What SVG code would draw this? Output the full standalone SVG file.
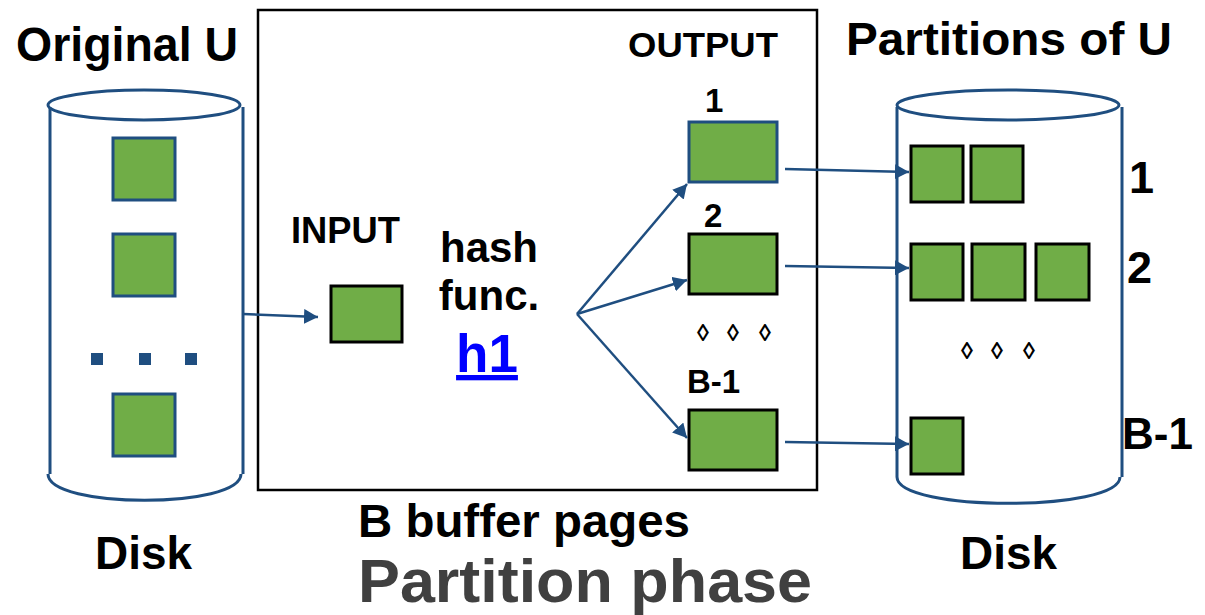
<svg xmlns="http://www.w3.org/2000/svg" width="1205" height="615" viewBox="0 0 1205 615">
<defs>
<style>
.t{font-family:"Liberation Sans",Arial,sans-serif;font-weight:bold;fill:#000}
.cyl{fill:none;stroke:#1F4E80;stroke-width:3}
.pg{fill:#70AD47;stroke:#000;stroke-width:3}
.pgb{fill:#70AD47;stroke:#1F4E80;stroke-width:3}
.dot{fill:#1F4E80}
.con{fill:none;stroke:#1F4E80;stroke-width:2.5;marker-end:url(#ah)}
.dia{font-family:"Liberation Sans",Arial,sans-serif;font-weight:bold;font-size:24px;fill:#000}
</style>
<marker id="ah" markerUnits="userSpaceOnUse" markerWidth="15" markerHeight="15" refX="14" refY="7.5" orient="auto">
<path d="M0,0 L14,7.5 L0,15 z" fill="#1F4E80"/>
</marker>
</defs>
<rect width="1205" height="615" fill="#fff"/>

<g id="original-disk">
<ellipse class="cyl" cx="144" cy="105" rx="96" ry="15"/>
<line class="cyl" x1="50" y1="107" x2="50" y2="474"/>
<line class="cyl" x1="243" y1="107" x2="243" y2="474"/>
<path class="cyl" d="M48,474 C48,509 241,509 241,474"/>
<rect class="pgb" x="113" y="138" width="62" height="62"/>
<rect class="pgb" x="113" y="234" width="62" height="62"/>
<rect class="pgb" x="113" y="394" width="62" height="62"/>
<rect class="dot" x="91" y="353" width="12" height="12"/>
<rect class="dot" x="139" y="353" width="12" height="12"/>
<rect class="dot" x="185" y="353" width="12" height="12"/>
<text class="t" x="16" y="61" font-size="48" textLength="222" lengthAdjust="spacingAndGlyphs">Original U</text>
<text class="t" x="95" y="569" font-size="46" textLength="97" lengthAdjust="spacingAndGlyphs">Disk</text>
</g>

<g id="buffer">
<rect x="258" y="10" width="559" height="480" fill="none" stroke="#000" stroke-width="2.5"/>
<text class="t" x="358" y="537" font-size="46" textLength="332" lengthAdjust="spacingAndGlyphs">B buffer pages</text>
<text class="t" x="358" y="602" font-size="62" textLength="454" lengthAdjust="spacingAndGlyphs" style="fill:#404040">Partition phase</text>
</g>

<g id="input">
<text class="t" x="291" y="243" font-size="36" textLength="109" lengthAdjust="spacingAndGlyphs">INPUT</text>
<rect class="pg" x="331" y="286" width="71" height="56"/>
</g>

<g id="hash">
<text class="t" x="489" y="262" font-size="42" text-anchor="middle">hash</text>
<text class="t" x="489" y="310" font-size="42" text-anchor="middle">func.</text>
<text class="t" x="487" y="372" font-size="53" text-anchor="middle" text-decoration="underline" style="fill:#0000FF">h1</text>
</g>

<g id="output">
<text class="t" x="628" y="57" font-size="35" textLength="150" lengthAdjust="spacingAndGlyphs">OUTPUT</text>
<text class="t" x="705" y="112" font-size="33">1</text>
<rect class="pgb" x="689" y="122" width="88" height="60"/>
<text class="t" x="704" y="227" font-size="33">2</text>
<rect class="pg" x="689" y="234" width="88" height="60"/>
<text class="dia" x="697 727 759" y="341">◊◊◊</text>
<text class="t" x="687" y="393" font-size="33">B-1</text>
<rect class="pg" x="689" y="410" width="88" height="60"/>
</g>

<g id="partitions-disk">
<ellipse class="cyl" cx="1008" cy="105" rx="111" ry="15"/>
<line class="cyl" x1="897" y1="107" x2="897" y2="477"/>
<line class="cyl" x1="1122" y1="107" x2="1122" y2="477"/>
<path class="cyl" d="M897,477 C897,512 1120,512 1120,477"/>
<rect class="pg" x="911" y="146" width="52" height="56"/>
<rect class="pg" x="971" y="146" width="52" height="56"/>
<rect class="pg" x="911" y="244" width="52" height="56"/>
<rect class="pg" x="972" y="244" width="53" height="56"/>
<rect class="pg" x="1036" y="244" width="53" height="56"/>
<rect class="pg" x="911" y="418" width="52" height="56"/>
<text class="dia" x="961 991 1023" y="359">◊◊◊</text>
<text class="t" x="846" y="55" font-size="47" textLength="326" lengthAdjust="spacingAndGlyphs">Partitions of U</text>
<text class="t" x="1129" y="193" font-size="45">1</text>
<text class="t" x="1127" y="283" font-size="45">2</text>
<text class="t" x="1122" y="449" font-size="44">B-1</text>
<text class="t" x="960" y="569" font-size="46" textLength="97" lengthAdjust="spacingAndGlyphs">Disk</text>
</g>

<g id="connectors">
<line class="con" x1="243" y1="314" x2="318" y2="317"/>
<line class="con" x1="577" y1="314" x2="687" y2="184"/>
<line class="con" x1="577" y1="314" x2="687" y2="280"/>
<line class="con" x1="577" y1="314" x2="687" y2="438"/>
<line class="con" x1="785" y1="169" x2="909" y2="172"/>
<line class="con" x1="785" y1="266" x2="909" y2="268"/>
<line class="con" x1="785" y1="442" x2="909" y2="444"/>
</g>
</svg>
